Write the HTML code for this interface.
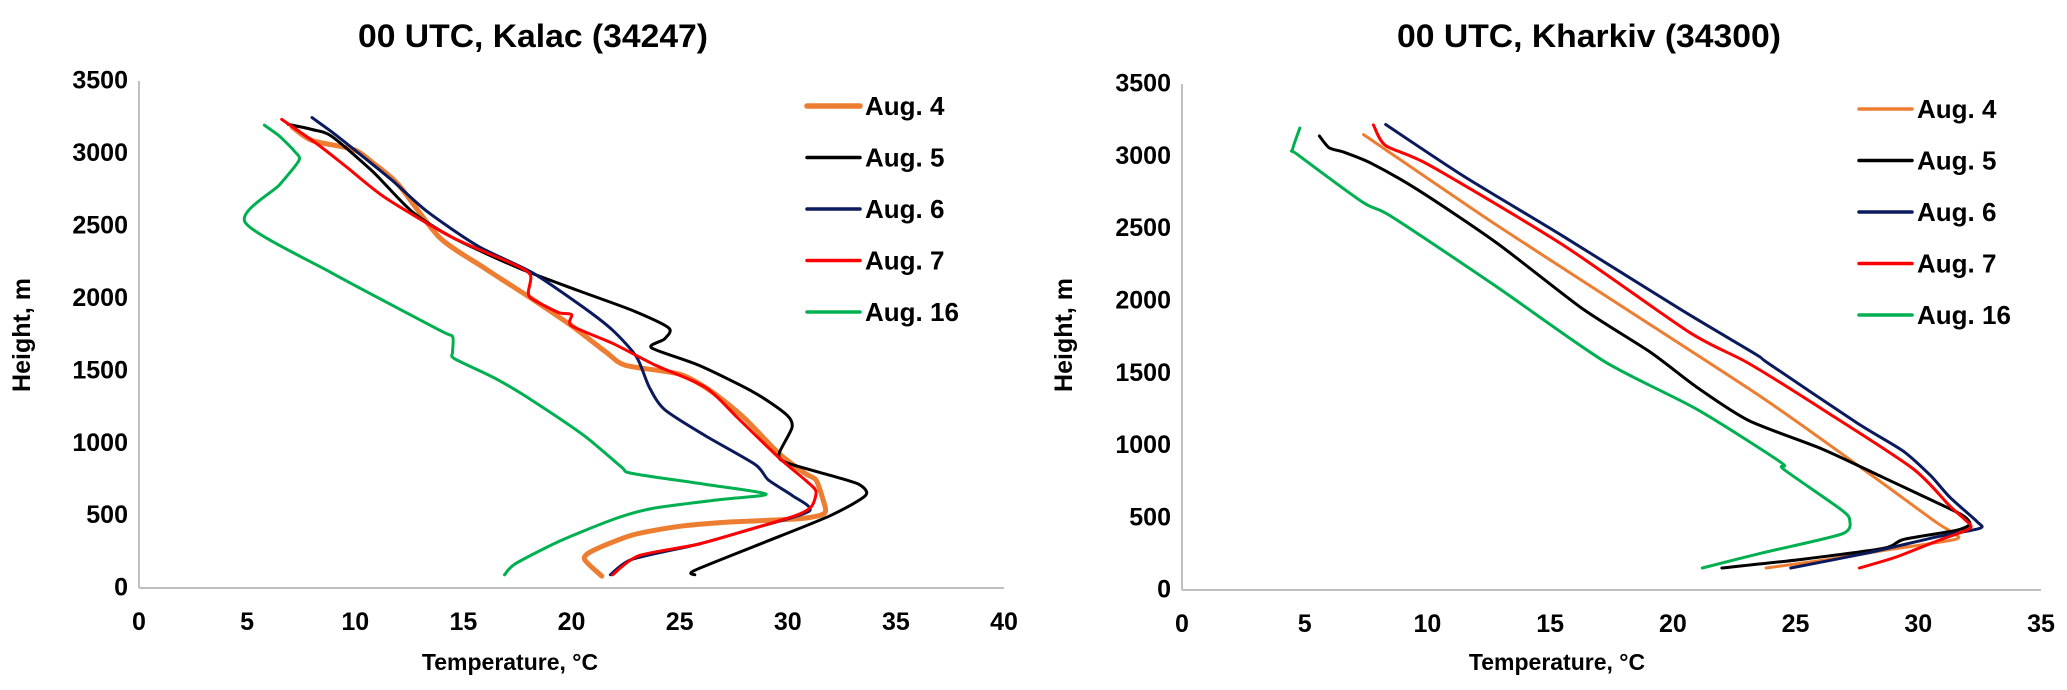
<!DOCTYPE html>
<html><head><meta charset="utf-8"><style>
html,body{margin:0;padding:0;background:#fff;}
svg{display:block;font-family:"Liberation Sans",sans-serif;font-weight:bold;}
</style></head><body>
<svg id="svg" width="2067" height="690" viewBox="0 0 2067 690" xmlns="http://www.w3.org/2000/svg"></svg>
<script>
const seriesNames = ["Aug. 4","Aug. 5","Aug. 6","Aug. 7","Aug. 16"];
const seriesColors = ["#ED7D31","#000000","#0A1A5C","#FF0000","#00B050"];
const xTicksLeft = [0,5,10,15,20,25,30,35,40];
const xTicksRight = [0,5,10,15,20,25,30,35];
const yTicks = [0,500,1000,1500,2000,2500,3000,3500];

// Kalac: [temperature, height]
const kalacAug4 = [[21.4,82],[20.6,198],[21,259],[22.8,365],[25,426],[27.4,456],[30.5,478],[31.7,517],[31.6,624],[31.3,746],[30.8,791],[29.6,928],[28,1172],[26.5,1354],[25,1476],[22.5,1537],[21.6,1628],[20,1811],[18.2,1993],[16,2206],[13.9,2419],[12,2784],[10.8,2937],[9.9,3028],[8,3089],[7.1,3180]];
const kalacAug5 = [[25.7,91],[25.7,122],[29,320],[32,502],[33.6,639],[33.3,715],[32,776],[29.9,867],[29.6,928],[30.2,1111],[29.9,1202],[28.4,1354],[25.9,1537],[23.7,1658],[24.3,1719],[24.5,1795],[22.8,1917],[20.3,2054],[17.6,2206],[14.5,2419],[12.6,2602],[10.8,2876],[8.9,3119],[8,3165],[6.9,3201]];
const kalacAug6 = [[21.8,91],[22.8,198],[25.9,304],[28.4,411],[31,532],[30.2,639],[29.1,746],[28.5,852],[26.2,1050],[24.3,1232],[23.6,1385],[23,1597],[21.9,1780],[20.6,1932],[18.2,2176],[15.7,2358],[13.3,2602],[11.7,2815],[10.2,2997],[8.9,3150],[8,3247]];
const kalacAug7 = [[21.9,91],[23.1,222],[25.9,304],[28.4,411],[30.4,502],[31.1,563],[31.3,669],[30.8,746],[29.6,898],[27.7,1172],[26.2,1385],[23.9,1537],[21.9,1689],[20,1811],[20,1887],[19.4,1902],[18.2,1993],[18,2039],[18.1,2161],[17.3,2237],[14.5,2419],[11.4,2693],[9.6,2906],[8.3,3058],[6.6,3235]];
const kalacAug16 = [[16.9,91],[17.4,167],[19.4,320],[21.9,472],[23.7,548],[26.8,609],[29,648],[26.2,715],[22.8,791],[22.3,837],[20.6,1050],[18.2,1293],[16.5,1445],[14.6,1582],[14.5,1628],[14.5,1735],[13.9,1780],[8.9,2176],[4.9,2526],[6.5,2784],[7.4,2952],[7.2,3013],[6.5,3119],[5.8,3195]];

// Kharkiv
const kharkivAug4 = [[23.8,152],[26.4,213],[28.6,274],[31.5,350],[31.4,396],[30.7,472],[28,806],[23.7,1324],[18.2,1932],[12.8,2526],[7.4,3150]];
const kharkivAug5 = [[22,152],[25.3,213],[28.6,289],[29.4,350],[31.5,411],[32.1,456],[31.8,517],[30.7,609],[28.6,776],[26.1,974],[23.1,1172],[21,1400],[19.1,1643],[16.3,1948],[12.8,2404],[9.6,2769],[7.7,2952],[6.6,3028],[6,3058],[5.6,3140]];
const kharkivAug6 = [[24.8,152],[28,259],[30.7,365],[32.5,426],[32.4,472],[31.3,639],[30.5,791],[29.4,959],[27.5,1156],[23.9,1567],[23.4,1628],[20.4,1932],[15.5,2450],[11.5,2860],[8.3,3220]];
const kharkivAug7 = [[27.6,152],[29.1,228],[30.7,335],[32.1,426],[31.9,487],[31.3,578],[29.8,837],[26.4,1217],[23.1,1567],[20.7,1780],[15.5,2389],[10.1,2937],[8.3,3074],[7.8,3217]];
const kharkivAug16 = [[21.2,152],[23.7,259],[26.9,389],[27.2,487],[26.8,563],[24.5,837],[24.4,883],[21,1248],[17.2,1582],[12.8,2100],[8.5,2587],[7.4,2678],[4.7,3013],[4.5,3043],[4.8,3195]];

const NS="http://www.w3.org/2000/svg";
const svg=document.getElementById('svg');
function mk(tag,attrs,parent,text){const e=document.createElementNS(NS,tag);for(const k in attrs)e.setAttribute(k,attrs[k]);if(text!==undefined)e.textContent=text;(parent||svg).appendChild(e);return e;}

function smoothPath(p){
  let d='M'+p[0][0].toFixed(1)+','+p[0][1].toFixed(1);
  for(let i=0;i<p.length-1;i++){
    const p0=p[i-1]||p[i],p1=p[i],p2=p[i+1],p3=p[i+2]||p2;
    const k=1/8;
    const c1x=p1[0]+(p2[0]-p0[0])*k,c1y=p1[1]+(p2[1]-p0[1])*k;
    const c2x=p2[0]-(p3[0]-p1[0])*k,c2y=p2[1]-(p3[1]-p1[1])*k;
    d+=` C${c1x.toFixed(1)},${c1y.toFixed(1)} ${c2x.toFixed(1)},${c2y.toFixed(1)} ${p2[0].toFixed(1)},${p2[1].toFixed(1)}`;
  }
  return d;
}

function drawChart(opt){
  const g=mk('g',{});
  
  
  const xScale=v=>opt.x0+(v-opt.xmin)/(opt.xmax-opt.xmin)*(opt.x1-opt.x0);
  const yScale=v=>opt.y0-(v/3500)*(opt.y0-opt.y1);
  const t=mk('text',{x:opt.titleX,y:47,'text-anchor':'middle','font-size':32,textLength:opt.titleW,lengthAdjust:'spacingAndGlyphs'},g,opt.title);
  
  
  const ya=mk('line',{x1:opt.x0,y1:opt.y1,x2:opt.x0,y2:opt.y0,stroke:'#BFBFBF','stroke-width':2},g);
  
  
  const xa=mk('line',{x1:opt.x0,y1:opt.y0,x2:opt.x1,y2:opt.y0,stroke:'#BFBFBF','stroke-width':2},g);
  
  
  yTicks.forEach(v=>{
    const e=mk('text',{x:opt.x0-11,y:yScale(v)+1,'text-anchor':'end','dominant-baseline':'middle','font-size':25},g,String(v));
    
    
  });
  opt.xTicks.forEach(v=>{
    const e=mk('text',{x:xScale(v),y:opt.y0+42,'text-anchor':'middle','font-size':25},g,String(v));
    
    
  });
  const xt=mk('text',{x:opt.xTitleX,y:670,'text-anchor':'middle','font-size':23},g,'Temperature, °C');
  
  
  const yt=mk('text',{x:0,y:0,'text-anchor':'middle','font-size':25,transform:`translate(${opt.yTitleX},335) rotate(-90)`},g,'Height, m');
  
  
  opt.series.forEach((data,i)=>{
    const pts=data.map(p=>[xScale(p[0]),yScale(p[1])]);
    const pl=mk('path',{d:smoothPath(pts),fill:'none',stroke:seriesColors[i],'stroke-width':opt.widths[i],'stroke-linejoin':'round','stroke-linecap':'round'},g);
    
    
    const ly=opt.legY+i*51.5;
    const ll=mk('line',{x1:opt.legX,y1:ly,x2:opt.legX+53,y2:ly,stroke:seriesColors[i],'stroke-width':opt.widths[i]+0.5,'stroke-linecap':'round'},g);
    
    
    const lt=mk('text',{x:opt.legX+58,y:ly+9,'font-size':26},g,seriesNames[i]);
    
    
  });
}
drawChart({name:'kalac-chart',title:'00 UTC, Kalac (34247)',titleX:533,titleW:350,x0:139,x1:1004,xmin:0,xmax:40,y0:588,y1:81,xTicks:xTicksLeft,xTitleX:510,yTitleX:30,legX:807,legY:106,widths:[5,3,3,3,3],series:[kalacAug4,kalacAug5,kalacAug6,kalacAug7,kalacAug16]});
drawChart({name:'kharkiv-chart',title:'00 UTC, Kharkiv (34300)',titleX:1589,titleW:384,x0:1182,x1:2041,xmin:0,xmax:35,y0:590,y1:84,xTicks:xTicksRight,xTitleX:1557,yTitleX:1072,legX:1859,legY:109,widths:[3,3,3,3,3],series:[kharkivAug4,kharkivAug5,kharkivAug6,kharkivAug7,kharkivAug16]});
</script>
</body></html>
